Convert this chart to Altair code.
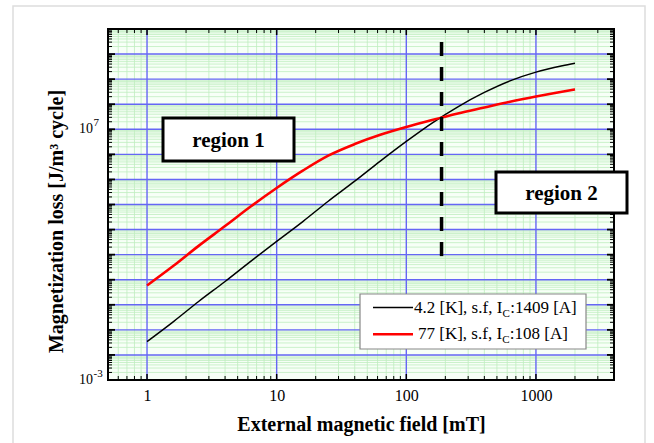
import altair as alt
import pandas as pd

# ---- data ----
field_42K = [1, 1.6, 2.5, 4, 6.3, 10, 16, 25, 40, 63, 100, 158, 250, 400, 630, 1000, 1600, 2000]
loss_42K = [0.034, 0.214, 1.35, 8.5, 54, 339, 2140, 1.35e4, 8.5e4, 5.4e5, 3.3e6, 1.78e7, 7.9e7,
            2.95e8, 8.5e8, 1.9e9, 3.4e9, 4.3e9]

field_77K = [1, 1.6, 2.5, 4, 6.3, 10, 16, 25, 40, 63, 100, 158, 250, 400, 630, 1000, 1400, 2000]
loss_77K = [5.9, 36, 224, 1380, 8300, 4.57e4, 2.29e5, 8.9e5, 2.57e6, 6.0e6, 1.23e7, 2.34e7, 4.27e7,
            7.4e7, 1.26e8, 2.04e8, 2.82e8, 3.9e8]

legend_main = ["4.2 [K], s.f, I", "77 [K], s.f, I"]
legend_sub = ["C", "C"]
legend_tail = [":1409 [A]", ":108 [A]"]

x_tick_values = [1, 10, 100, 1000]
y_label_values = [1e-3, 1e7]
y_label_base = ["10", "10"]
y_label_exponents = ["-3", "7"]

boundary_field = [187]
boundary_top = [3e10]
boundary_bottom = [83]

region_labels = ["region 1", "region 2"]

# ---- layout ----
W, H = 506, 351
FONT = "Liberation Serif"
xscale = alt.Scale(type="log", domain=[0.5, 4000], nice=False)
yscale = alt.Scale(type="log", domain=[1e-3, 1e11], nice=False)

x_major = [1, 10, 100, 1000]
x_minor = [m * 10.0 ** e for e in range(-1, 4) for m in range(2, 10) if 0.5 <= m * 10.0 ** e <= 4000]
y_major = [10.0 ** e for e in range(-3, 12)]
y_minor = [m * 10.0 ** e for e in range(-3, 11) for m in range(2, 10)]

x_axis = alt.Axis(values=x_tick_values, labelExpr="datum.value", grid=False, ticks=False, domain=False,
                  labelFont=FONT, labelFontSize=16, labelColor="black", labelPadding=7,
                  title="External magnetic field [mT]", titleFont=FONT, titleFontSize=20,
                  titleFontWeight="bold", titleColor="black", titlePadding=11)
y_axis = alt.Axis(labels=False, grid=False, ticks=False, domain=False,
                  title="Magnetization loss [J/m³ cycle]", titleFont=FONT, titleFontSize=20,
                  titleFontWeight="bold", titleColor="black", titlePadding=42, titleY=192)


def X(field):
    return alt.X(field, scale=xscale, axis=x_axis)


def Y(field):
    return alt.Y(field, scale=yscale, axis=y_axis)


def vrules(vals, y0, y1, color, width):
    return alt.Chart(pd.DataFrame({"v": vals})).mark_rule(color=color, strokeWidth=width).encode(
        x=X("v:Q"), y=alt.value(y0), y2=alt.value(y1))


def hrules(vals, x0, x1, color, width):
    return alt.Chart(pd.DataFrame({"v": vals})).mark_rule(color=color, strokeWidth=width).encode(
        y=Y("v:Q"), x=alt.value(x0), x2=alt.value(x1))


one = pd.DataFrame({"t": ["a"]})

outer = alt.Chart(one).mark_rect(fillOpacity=0, stroke="#dddddd", strokeWidth=1.5).encode(
    x=alt.value(-95), x2=alt.value(537), y=alt.value(-23), y2=alt.value(420))

bg = alt.Chart(one).mark_rect(fill="#f7fff7").encode(
    x=alt.value(0), x2=alt.value(W), y=alt.value(0), y2=alt.value(H))

grid_layers = [
    vrules(x_minor, 0, H, "#bfeebf", 0.8),
    hrules(y_minor, 0, W, "#bfeebf", 0.8),
    vrules(x_major, 0, H, "#6666f5", 1.4),
    hrules(y_major, 0, W, "#6666f5", 1.4),
]

tick_layers = [
    vrules(x_major, 0, 6, "black", 1.5), vrules(x_minor, 0, 4, "black", 1),
    vrules(x_major, H, H - 6, "black", 1.5), vrules(x_minor, H, H - 4, "black", 1),
    hrules(y_major, 0, 7, "black", 1.8), hrules(y_minor, 0, 4, "black", 1),
    hrules(y_major, W, W - 7, "black", 1.8), hrules(y_minor, W, W - 4, "black", 1),
]

d42 = pd.DataFrame({"field": field_42K, "loss": loss_42K})
d77 = pd.DataFrame({"field": field_77K, "loss": loss_77K})

line42 = alt.Chart(d42).mark_line(color="black", strokeWidth=1.5, interpolate="monotone").encode(
    x=X("field:Q"), y=Y("loss:Q"))
line77 = alt.Chart(d77).mark_line(color="#ff0000", strokeWidth=2.6, interpolate="monotone").encode(
    x=X("field:Q"), y=Y("loss:Q"))

boundary = alt.Chart(pd.DataFrame({"v": boundary_field, "top": boundary_top, "bot": boundary_bottom})).mark_rule(
    color="black", strokeWidth=3.5, strokeDash=[14, 11]).encode(
    x=X("v:Q"), y=Y("top:Q"), y2="bot:Q")

frame = alt.Chart(one).mark_rect(fillOpacity=0, stroke="black", strokeWidth=2).encode(
    x=alt.value(0), x2=alt.value(W), y=alt.value(0), y2=alt.value(H))


def region_box(label, x0, x1, y0, y1):
    box = alt.Chart(one).mark_rect(fill="white", stroke="black", strokeWidth=3).encode(
        x=alt.value(x0), x2=alt.value(x1), y=alt.value(y0), y2=alt.value(y1))
    txt = alt.Chart(pd.DataFrame({"t": [label]})).mark_text(
        font=FONT, fontSize=21, fontWeight="bold", color="black", align="center", baseline="middle").encode(
        text="t:N", x=alt.value((x0 + x1) / 2), y=alt.value((y0 + y1) / 2 + 1))
    return box + txt


reg1 = region_box(region_labels[0], 55, 186, 89, 132)
reg2 = region_box(region_labels[1], 388, 519, 143, 184)

# legend
leg_box = alt.Chart(one).mark_rect(fill="white", stroke="#888888", strokeWidth=1.2).encode(
    x=alt.value(252), x2=alt.value(478), y=alt.value(265), y2=alt.value(320))
leg_layers = [leg_box]
rows = [(278.5, "black", 1.5, 306, 394.6, 402.2), (305.3, "#ff0000", 2.6, 310, 394.3, 401.8)]
for i, (yy, col, sw, tx, sx, ex) in enumerate(rows):
    leg_layers.append(alt.Chart(one).mark_rule(color=col, strokeWidth=sw).encode(
        x=alt.value(265), x2=alt.value(305), y=alt.value(yy)))
    leg_layers.append(alt.Chart(pd.DataFrame({"t": [legend_main[i]]})).mark_text(
        font=FONT, fontSize=17, color="black", align="left", baseline="middle").encode(
        text="t:N", x=alt.value(tx), y=alt.value(yy)))
    leg_layers.append(alt.Chart(pd.DataFrame({"t": [legend_sub[i]]})).mark_text(
        font=FONT, fontSize=11, color="black", align="left", baseline="middle").encode(
        text="t:N", x=alt.value(sx), y=alt.value(yy + 6)))
    leg_layers.append(alt.Chart(pd.DataFrame({"t": [legend_tail[i]]})).mark_text(
        font=FONT, fontSize=17, color="black", align="left", baseline="middle").encode(
        text="t:N", x=alt.value(ex), y=alt.value(yy)))

ylab_df = pd.DataFrame({"v": y_label_values, "base": y_label_base, "exp": y_label_exponents})
ylab_base = alt.Chart(ylab_df).mark_text(font=FONT, fontSize=14, color="black", align="right",
                                         baseline="middle").encode(
    y=Y("v:Q"), x=alt.value(-15), text="base:N")
ylab_exp = alt.Chart(ylab_df).mark_text(font=FONT, fontSize=11, color="black", align="left",
                                        baseline="middle", dy=-6).encode(
    y=Y("v:Q"), x=alt.value(-14.5), text="exp:N")

chart = alt.layer(
    outer, bg, *grid_layers, *tick_layers, line42, line77, boundary, frame,
    reg1, reg2, *leg_layers, ylab_base, ylab_exp
).properties(
    width=W, height=H,
    autosize=alt.AutoSizeParams(type="none"),
    padding={"left": 108, "top": 29, "right": 40, "bottom": 63},
    background="white",
).configure_view(strokeWidth=0)

chart.save("out.html", embed_options={"renderer": "svg", "actions": False})
